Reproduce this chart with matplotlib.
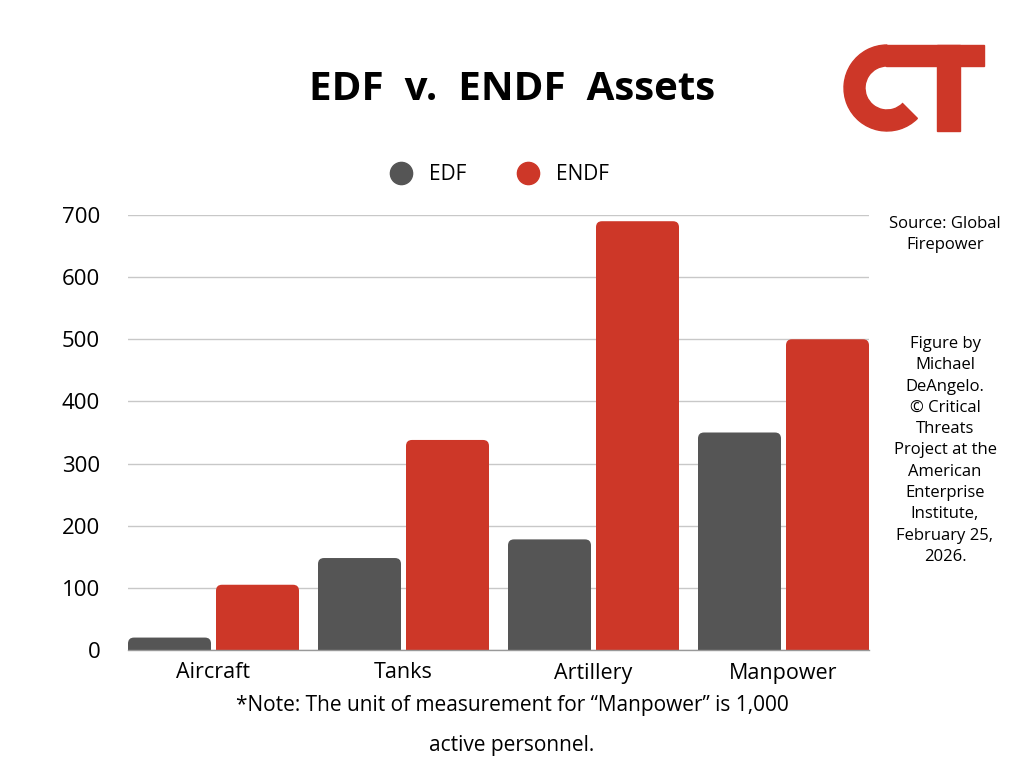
import matplotlib
matplotlib.use("Agg")
import matplotlib.pyplot as plt
import numpy as np
from matplotlib.patches import FancyBboxPatch, Wedge, Rectangle
from matplotlib.lines import Line2D

plt.rcParams["font.family"] = ["Open Sans", "DejaVu Sans"]

categories = ["Aircraft", "Tanks", "Artillery", "Manpower"]
edf_values = [20, 148, 178, 350]
endf_values = [105, 338, 690, 500]
series_names = ["EDF", "ENDF"]
yticks = [0, 100, 200, 300, 400, 500, 600, 700]

grey = "#555555"
red = "#CD3728"

fig = plt.figure(figsize=(10.24, 7.68), dpi=100)
ax = fig.add_axes([128 / 1024, 1 - 650 / 768, (869 - 128) / 1024, (650 - 215) / 768])

x = np.arange(len(categories))
w = 83 / 190
gap = 5 / 190
bars1 = ax.bar(x - (w + gap) / 2, edf_values, w, color=grey)
bars2 = ax.bar(x + (w + gap) / 2, endf_values, w, color=red)

# swap plain bars for ones with rounded tops
ax.set_xlim(-0.5 + 9.5 / 190, len(categories) - 0.5 - 9.5 / 190)
ax.set_ylim(0, 700)
px_x = 190.0
px_y = 435.0 / 700
aspect = px_x / px_y
for b in list(bars1) + list(bars2):
    bx, by = b.get_x(), b.get_y()
    bw, bh = b.get_width(), b.get_height()
    col = b.get_facecolor()
    b.remove()
    p = FancyBboxPatch((bx, by - 20), bw, bh + 20,
                       boxstyle="round,pad=0,rounding_size=%f" % (6 / px_x),
                       mutation_aspect=aspect, facecolor=col, edgecolor="none",
                       zorder=2, clip_on=True)
    ax.add_patch(p)

ax.set_yticks(yticks)
ax.set_yticklabels([str(v) for v in yticks], fontsize=16)
ax.set_xticks(x)
ax.set_xticklabels(categories, fontsize=15.5)
ax.tick_params(axis="y", length=0, pad=20)
ax.tick_params(axis="x", length=0, pad=9)
ax.grid(axis="y", color="#c8c8c8", linewidth=1, zorder=0)
ax.set_axisbelow(True)
for s in ["top", "right", "left"]:
    ax.spines[s].set_visible(False)
ax.spines["bottom"].set_color("#999999")
ax.spines["bottom"].set_linewidth(1)
ax.spines["bottom"].set_zorder(3)

fig.text(0.5, 1 - 90 / 768, "EDF  v.  ENDF  Assets", fontsize=29, fontweight="bold",
         ha="center", va="center")

handles = [Line2D([], [], marker="o", linestyle="none", markersize=16, color=grey),
           Line2D([], [], marker="o", linestyle="none", markersize=16, color=red)]
fig.legend(handles, series_names, loc="center", bbox_to_anchor=(0.483, 1 - 175 / 768),
           ncol=2, frameon=False, fontsize=15, handletextpad=0.3, columnspacing=2.0)

fig.text(945 / 1024, 1 - 216 / 768, "Source: Global\nFirepower", fontsize=12,
         ha="center", va="top", linespacing=1.4)
fig.text(945 / 1024, 1 - 336 / 768,
         "Figure by\nMichael\nDeAngelo.\n\u00a9 Critical\nThreats\nProject at the\nAmerican\n"
         "Enterprise\nInstitute,\nFebruary 25,\n2026.",
         fontsize=12, ha="center", va="top", linespacing=1.44)

fig.text(512 / 1024, 1 - 706 / 768,
         "*Note: The unit of measurement for \u201cManpower\u201d is 1,000",
         fontsize=15, ha="center", va="center")
fig.text(512 / 1024, 1 - 746 / 768, "active personnel.", fontsize=15,
         ha="center", va="center")

# CT logo
lax = fig.add_axes([0, 0, 1, 1], zorder=5)
lax.set_xlim(0, 1024)
lax.set_ylim(768, 0)
lax.axis("off")
lax.add_patch(Wedge((887, 88), 43, 45, 270, width=21, color=red))
lax.add_patch(Rectangle((886, 45), 98, 21, color=red))
lax.add_patch(Rectangle((937, 45), 23, 86, color=red))

fig.savefig("out.png", dpi=100)
